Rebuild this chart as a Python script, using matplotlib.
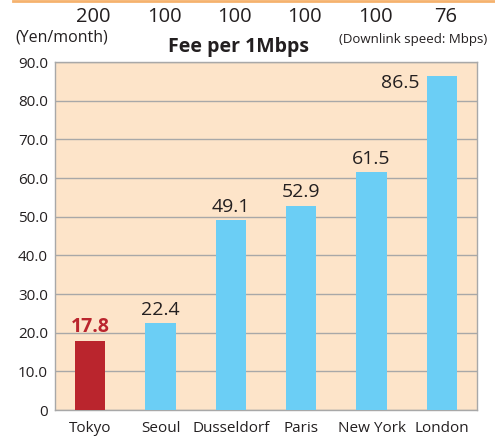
import matplotlib.pyplot as plt
from matplotlib.lines import Line2D

cities = ["Tokyo", "Seoul", "Dusseldorf", "Paris", "New York", "London"]
fees = [17.8, 22.4, 49.1, 52.9, 61.5, 86.5]
speeds = ["200", "100", "100", "100", "100", "76"]
yticks = [0, 10, 20, 30, 40, 50, 60, 70, 80, 90]
ytick_labels = ["0", "10.0", "20.0", "30.0", "40.0", "50.0", "60.0", "70.0", "80.0", "90.0"]

plt.rcParams["font.family"] = ["Open Sans", "DejaVu Sans"]

BG = "#FDE4C9"
BLUE = "#6BCEF5"
RED = "#BA252D"
GRID = "#A8A8A8"
TEXT = "#231F20"

fig = plt.figure(figsize=(4.95, 4.36), dpi=100)
ax = fig.add_axes([0.111, 0.0596, 0.853, 0.798])
ax.set_facecolor(BG)

x = list(range(len(cities)))
colors = [RED] + [BLUE] * (len(cities) - 1)
ax.bar(x, fees, width=0.43, color=colors, zorder=3)

ax.set_xlim(-0.5, len(cities) - 0.5)
ax.set_ylim(0, 90)
ax.set_yticks(yticks)
ax.set_yticklabels(ytick_labels, fontsize=11, color=TEXT)
ax.set_xticks(x)
ax.set_xticklabels(cities, fontsize=11, color=TEXT)
ax.tick_params(axis="y", length=0, pad=5)
ax.tick_params(axis="x", length=0, pad=8)
ax.yaxis.grid(True, color=GRID, linewidth=1, zorder=1)
for s in ax.spines.values():
    s.set_color(GRID)
    s.set_linewidth(1)

# value labels above the bars
for i, v in enumerate(fees):
    if i == 0:
        ax.annotate(f"{v}", (i, v), xytext=(0, 3), textcoords="offset points",
                    ha="center", va="bottom", fontsize=14, fontweight="bold", color=RED)
    elif v > 80:
        # no room above, put it to the left of the bar
        ax.annotate(f"{v}", (i - 0.215, v), xytext=(-5, -5), textcoords="offset points",
                    ha="right", va="center", fontsize=14, color=TEXT)
    else:
        ax.annotate(f"{v}", (i, v), xytext=(0, 3), textcoords="offset points",
                    ha="center", va="bottom", fontsize=14, color=TEXT)

# downlink speeds above the chart
for i, s in enumerate(speeds):
    ax.text(i + 0.05, 1.13, s, transform=ax.get_xaxis_transform(),
            ha="center", va="center", fontsize=14.5, color=TEXT)

fig.text(62 / 495, 1 - 38 / 436, "(Yen/month)", ha="center", va="center",
         fontsize=11.5, color=TEXT)
fig.text(239 / 495, 1 - 47 / 436, "Fee per 1Mbps", ha="center", va="center",
         fontsize=14, fontweight="bold", color=TEXT)
fig.text(413 / 495, 1 - 40 / 436, "(Downlink speed: Mbps)", ha="center", va="center",
         fontsize=9.5, color=TEXT)

# orange rule at the very top
fig.add_artist(Line2D([13 / 495, 1], [0.998, 0.998], transform=fig.transFigure,
                      color="#F5B26E", linewidth=2))

fig.savefig("out.png", dpi=100)
